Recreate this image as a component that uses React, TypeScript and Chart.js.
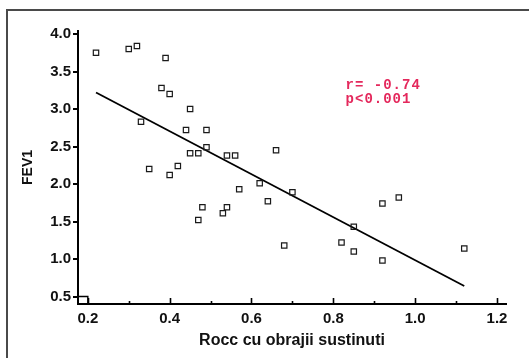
import React, { useEffect, useRef } from "react";
import { Chart, registerables } from "chart.js";

Chart.register(...registerables);

// Data
const rocc = [0.22, 0.30, 0.32, 0.39, 0.38, 0.40, 0.33, 0.45, 0.44, 0.49, 0.49, 0.45, 0.47, 0.54, 0.56, 0.35, 0.40, 0.42, 0.66, 0.62, 0.57, 0.70, 0.64, 0.48, 0.47, 0.53, 0.54, 0.68, 0.82, 0.85, 0.85, 0.92, 0.96, 0.92, 1.12];
const fev1 = [3.75, 3.80, 3.84, 3.68, 3.28, 3.20, 2.83, 3.00, 2.72, 2.72, 2.49, 2.41, 2.41, 2.38, 2.38, 2.20, 2.12, 2.24, 2.45, 2.01, 1.93, 1.89, 1.77, 1.69, 1.52, 1.61, 1.69, 1.18, 1.22, 1.43, 1.10, 1.74, 1.82, 0.98, 1.14];
const fitX = [0.22, 1.12];
const fitY = [3.22, 0.64];
const annotationLines = ["r= -0.74", "p<0.001"];
const annotationAt = { x: 0.83, y: 3.31 };
const xTitle = "Rocc cu obrajii sustinuti";
const yTitle = "FEV1";

const FONT = "'Liberation Sans', Arial, Helvetica, sans-serif";

const innerTicksPlugin = {
  id: "innerTicks",
  afterDraw(chart: any) {
    const { ctx, scales } = chart;
    const xs = scales.x;
    const ys = scales.y;
    const bottom = chart.chartArea.bottom;
    const left = chart.chartArea.left;
    ctx.save();
    ctx.strokeStyle = "#000";
    ctx.lineWidth = 1.6;
    const majors = xs.ticks.map((t: any) => t.value);
    const all: { v: number; major: boolean }[] = [];
    majors.forEach((v: number, i: number) => {
      all.push({ v, major: true });
      if (i < majors.length - 1) all.push({ v: (v + majors[i + 1]) / 2, major: false });
    });
    all.forEach(({ v, major }) => {
      const px = Math.round(xs.getPixelForValue(v)) + 0.5;
      ctx.beginPath();
      ctx.moveTo(px, bottom);
      ctx.lineTo(px, bottom - (major ? 6 : 3));
      ctx.stroke();
    });
    // small corner box at first ticks
    const x0 = xs.getPixelForValue(majors[0]);
    const y0 = ys.getPixelForValue(ys.ticks[0].value);
    ctx.lineWidth = 1.4;
    ctx.beginPath();
    ctx.moveTo(left, y0);
    ctx.lineTo(x0, y0);
    ctx.lineTo(x0, bottom);
    ctx.stroke();

    // annotation
    ctx.fillStyle = "#e4285c";
    ctx.font = "bold 14px 'Liberation Mono', 'DejaVu Sans Mono', monospace";
    try { (ctx as any).letterSpacing = "1px"; } catch (e) {}
    ctx.textAlign = "left";
    ctx.textBaseline = "middle";
    const ax = xs.getPixelForValue(annotationAt.x);
    const ay = ys.getPixelForValue(annotationAt.y);
    annotationLines.forEach((line, i) => {
      ctx.fillText(line, ax, ay + i * 14);
    });
    ctx.restore();
  },
};

export default function App() {
  const ref = useRef<HTMLCanvasElement | null>(null);

  useEffect(() => {
    if (!ref.current) return;
    Chart.defaults.font.family = FONT;
    const chart = new Chart(ref.current, {
      type: "scatter",
      data: {
        datasets: [
          {
            label: "points",
            data: rocc.map((x, i) => ({ x, y: fev1[i] })),
            pointStyle: "rect",
            pointRadius: 3.8,
            pointBorderWidth: 1.2,
            borderColor: "#1a1a1a",
            backgroundColor: "rgba(255,255,255,0)",
            showLine: false,
          } as any,
          {
            label: "fit",
            data: fitX.map((x, i) => ({ x, y: fitY[i] })),
            showLine: true,
            pointRadius: 0,
            borderColor: "#000",
            borderWidth: 1.8,
          } as any,
        ],
      },
      options: {
        animation: false,
        responsive: false,
        devicePixelRatio: 1,
        layout: { padding: { top: 31, right: 23, left: 0, bottom: 0 } },
        plugins: { legend: { display: false }, tooltip: { enabled: false } },
        scales: {
          x: {
            type: "linear",
            min: 0.176,
            max: 1.222,
            afterFit: (s: any) => { s.height = 54; },
            border: { display: true, color: "#000", width: 2 },
            grid: { display: false, drawTicks: false },
            ticks: {
              stepSize: 0.2,
              includeBounds: false,
              padding: 6,
              color: "#111",
              font: { size: 15, weight: "bold", family: FONT },
              callback: (v: any) => Number(v).toFixed(1),
            },
            title: {
              display: true,
              text: xTitle,
              color: "#111",
              font: { size: 16, weight: "bold", family: FONT },
              padding: { top: 0, bottom: 8 },
            },
          },
          y: {
            type: "linear",
            min: 0.40,
            max: 4.04,
            afterFit: (s: any) => { s.width = 78; },
            border: { display: true, color: "#000", width: 2 },
            grid: {
              display: true,
              drawOnChartArea: false,
              drawTicks: true,
              tickLength: 5,
              color: "#000",
              lineWidth: 2,
            },
            ticks: {
              stepSize: 0.5,
              includeBounds: false,
              padding: 2,
              color: "#111",
              font: { size: 15, weight: "bold", family: FONT },
              callback: (v: any) => Number(v).toFixed(1),
            },
            title: {
              display: true,
              text: yTitle,
              color: "#111",
              font: { size: 14, weight: "bold", family: FONT },
              padding: { top: 20, bottom: 0 },
            },
          },
        },
      } as any,
      plugins: [innerTicksPlugin],
    });
    return () => chart.destroy();
  }, []);

  return (
    <div style={{ position: "absolute", left: 0, top: 0, width: 529, height: 358, background: "#fff", overflow: "hidden" }}>
      <div
        style={{
          position: "absolute",
          left: 6,
          top: 9,
          width: 523,
          height: 349,
          borderTop: "2px solid #4a4a4a",
          borderLeft: "2px solid #4a4a4a",
          boxSizing: "border-box",
        }}
      />
      <canvas ref={ref} width={529} height={358} style={{ position: "absolute", left: 0, top: 0 }} />
    </div>
  );
}
